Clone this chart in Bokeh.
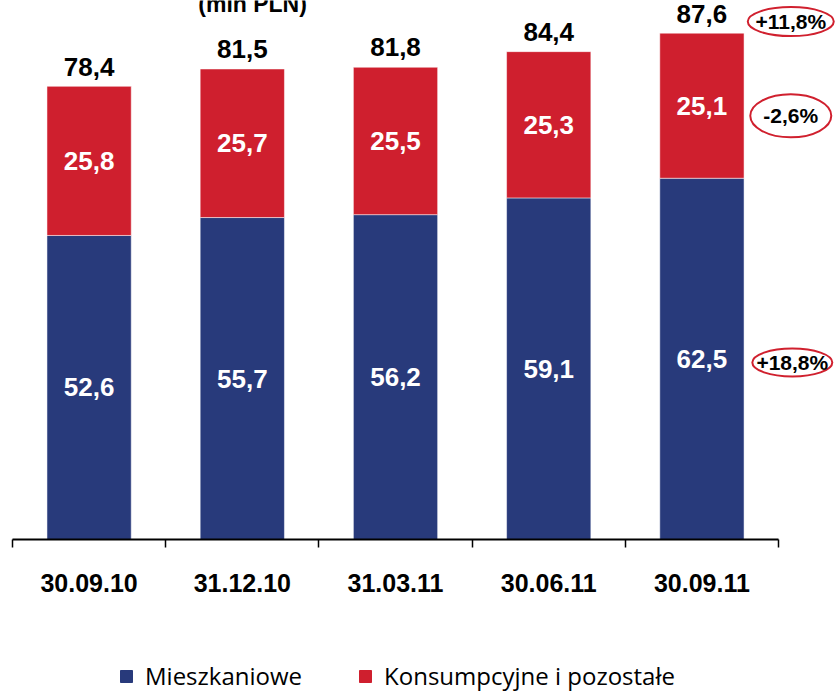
import numpy as np
from bokeh.plotting import figure
from bokeh.layouts import column
from bokeh.models import ColumnDataSource, Range1d, FixedTicker, Label
from bokeh.core.properties import value
from bokeh.embed import file_html
from bokeh.resources import INLINE

# ---- data ----
categories = ["30.09.10", "31.12.10", "31.03.11", "30.06.11", "30.09.11"]
mieszkaniowe = [52.6, 55.7, 56.2, 59.1, 62.5]
konsumpcyjne = [25.8, 25.7, 25.5, 25.3, 25.1]
totals = [78.4, 81.5, 81.8, 84.4, 87.6]
series_names = ["Mieszkaniowe", "Konsumpcyjne i pozostałe"]
changes = ["+18,8%", "-2,6%", "+11,8%"]   # change vs 30.09.10 for each segment / total
unit_label = "(mln PLN)"

BLUE = "#283a7b"
RED = "#cf1f2e"
ELL = "#d0202e"
NUM_FONT = value("Liberation Sans")

def fmt(v):
    return f"{v:.1f}".replace(".", ",")

n = len(categories)
xc = np.arange(n) + 0.5

src = ColumnDataSource(dict(
    x=xc,
    blue=mieszkaniowe,
    red=konsumpcyjne,
    blue_mid=[b / 2 for b in mieszkaniowe],
    red_mid=[b + r / 2 for b, r in zip(mieszkaniowe, konsumpcyjne)],
    tot_lab=[t + 3.4 for t in totals],
    blue_txt=[fmt(v) for v in mieszkaniowe],
    red_txt=[fmt(v) for v in konsumpcyjne],
    tot_txt=[fmt(v) for v in totals],
))

p = figure(width=839, height=638, output_backend="svg", toolbar_location=None,
           x_range=Range1d(0, 5.398), y_range=Range1d(0, 93.25),
           min_border_left=12, min_border_right=0, min_border_top=0, min_border_bottom=99)
p.outline_line_color = None
p.xgrid.visible = False
p.ygrid.visible = False
p.yaxis.visible = False
p.background_fill_color = "white"
p.border_fill_color = "white"

p.vbar_stack(["blue", "red"], x="x", width=0.55, source=src,
             color=[BLUE, RED], line_color="white", line_alpha=0.5, line_width=1)

# value labels
p.text(x="x", y="blue_mid", text="blue_txt", source=src, text_color="white",
       text_font=NUM_FONT, text_font_style="bold", text_font_size="26px",
       text_align="center", text_baseline="middle")
p.text(x="x", y="red_mid", text="red_txt", source=src, text_color="white",
       text_font=NUM_FONT, text_font_style="bold", text_font_size="26px",
       text_align="center", text_baseline="middle")
p.text(x="x", y="tot_lab", text="tot_txt", source=src, text_color="black",
       text_font=NUM_FONT, text_font_style="bold", text_font_size="26px",
       text_align="center", text_baseline="middle")

# change ellipses next to last bar
last_b, last_r, last_t = mieszkaniowe[-1], konsumpcyjne[-1], totals[-1]
ch_src = ColumnDataSource(dict(
    x=[n + 0.09, n + 0.08, n + 0.08],
    y=[last_b * 0.49, last_b + last_r * 0.43, last_t + 2.0],
    w=[80, 81, 86],
    h=[28, 43, 29],
    txt=changes,
))
p.ellipse(x="x", y="y", width="w", height="h", width_units="screen", height_units="screen",
          source=ch_src, fill_color=None, line_color=ELL, line_width=2)
p.text(x="x", y="y", text="txt", source=ch_src, text_color="black",
       text_font=NUM_FONT, text_font_style="bold", text_font_size="21px",
       text_align="center", text_baseline="middle")

# partially visible unit title at the very top
p.add_layout(Label(x=1.567, y=92.6, text=unit_label, text_align="center",
                   text_baseline="alphabetic", text_font="Liberation Sans",
                   text_font_style="bold", text_font_size="23px", text_color="black"))

# x axis: line only under the categories, ticks at boundaries, labels at centres
ax = p.xaxis[0]
ax.ticker = FixedTicker(ticks=list(xc), minor_ticks=list(np.arange(n + 1)))
ax.major_label_overrides = {float(x): c for x, c in zip(xc, categories)}
ax.bounds = (0, n)
ax.axis_line_color = "black"
ax.axis_line_width = 2
ax.major_tick_line_color = None
ax.major_tick_out = 0
ax.major_tick_in = 0
ax.minor_tick_line_color = "black"
ax.minor_tick_line_width = 1.5
ax.minor_tick_out = 8
ax.minor_tick_in = 0
ax.major_label_standoff = 26
ax.major_label_text_font = "Liberation Sans"
ax.major_label_text_font_style = "bold"
ax.major_label_text_font_size = "25px"
ax.major_label_text_color = "black"

# ---- legend strip below the chart ----
pl = figure(width=839, height=54, output_backend="svg", toolbar_location=None,
            x_range=Range1d(0, 839), y_range=Range1d(0, 54),
            x_axis_type=None, y_axis_type=None,
            min_border=0)
pl.outline_line_color = None
pl.xgrid.visible = False
pl.ygrid.visible = False
for name, col in zip(series_names, [BLUE, RED]):
    # legend-only renderer: its single point lies outside the visible range
    pl.scatter(x=[-100], y=[-100], marker="square", color=col, legend_label=name)

lg = pl.legend[0]
lg.orientation = "horizontal"
lg.location = (99, 0)
lg.border_line_color = None
lg.background_fill_alpha = 0
lg.padding = 0
lg.margin = 0
lg.glyph_width = 30
lg.glyph_height = 30
lg.label_standoff = 4
lg.spacing = 48
lg.label_text_font = "Open Sans"
lg.label_text_font_size = "24px"
lg.label_text_color = "black"

layout = column(p, pl, spacing=0)
open("out.html", "w").write(file_html(layout, INLINE))
